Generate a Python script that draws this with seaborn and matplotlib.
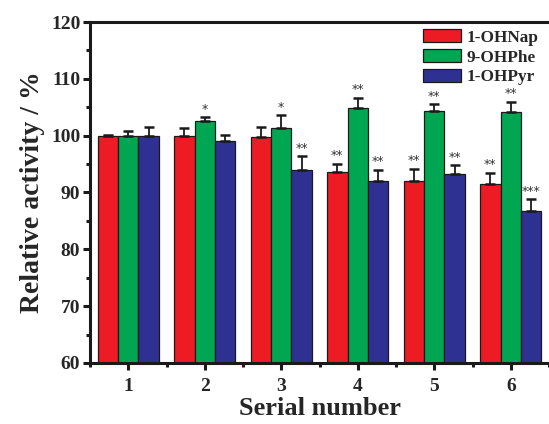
import matplotlib
matplotlib.use("Agg")
import matplotlib.pyplot as plt
import seaborn as sns
import pandas as pd
import numpy as np

groups = ["1", "2", "3", "4", "5", "6"]
series = ["1-OHNap", "9-OHPhe", "1-OHPyr"]
nap = [100.0, 100.0, 99.7, 93.6, 92.1, 91.5]
phe = [100.0, 102.5, 101.4, 104.9, 104.4, 104.1]
pyr = [100.0, 99.0, 94.0, 92.1, 93.3, 86.7]
nap_err = [0.2, 1.4, 1.9, 1.5, 2.1, 2.0]
phe_err = [0.8, 0.8, 2.2, 1.8, 1.1, 1.9]
pyr_err = [1.5, 1.1, 2.4, 1.9, 1.5, 2.1]
nap_sig = ["", "", "", "**", "**", "**"]
phe_sig = ["", "*", "*", "**", "**", "**"]
pyr_sig = ["", "", "**", "**", "**", "***"]
colors = ["#ED1C24", "#00A651", "#2E3192"]

values = [nap, phe, pyr]
errs = [nap_err, phe_err, pyr_err]
sigs = [nap_sig, phe_sig, pyr_sig]

df = pd.DataFrame({
    "Serial": [g for s in series for g in groups],
    "Series": [s for s in series for _ in groups],
    "Value": [v for vals in values for v in vals],
})

sns.set_style("ticks")
plt.rcParams["font.family"] = ["Liberation Serif", "DejaVu Serif"]
plt.rcParams["font.weight"] = "bold"

fig = plt.figure(figsize=(5.49, 4.24), dpi=100)
ax = fig.add_axes([0.164, 0.144, 0.836, 0.804])

sns.barplot(data=df, x="Serial", y="Value", hue="Series", hue_order=series,
            order=groups, palette=colors, saturation=1, width=0.8,
            edgecolor="#1a1a1a", linewidth=0.9, errorbar=None, ax=ax, zorder=2)

for cont, err, sig in zip(ax.containers, errs, sigs):
    for bar, e, s in zip(cont, err, sig):
        xc = bar.get_x() + bar.get_width() / 2
        h = bar.get_height()
        ax.errorbar(xc, h, yerr=[[0], [e]], fmt="none", ecolor="#1a1a1a",
                    elinewidth=1.3, capsize=3.5, capthick=1.8, zorder=3)
        if s:
            ax.text(xc, h + e + 0.25, s, ha="center", va="bottom",
                    fontsize=9, color="#333333", fontweight="normal",
                    family="DejaVu Sans")

ax.set_ylim(60, 120)
ax.set_xlim(-0.5, 5.5)
ax.set_yticks(np.arange(60, 121, 10))
ax.set_yticks(np.arange(65, 120, 10), minor=True)
ax.set_xticks(np.arange(-0.5, 5.6, 1.0), minor=True)

for sp in ["left", "bottom", "top"]:
    ax.spines[sp].set_linewidth(2.2)
    ax.spines[sp].set_color("#1a1a1a")
ax.spines["right"].set_visible(False)

ax.tick_params(axis="both", which="major", direction="out", length=5, width=2.2,
               labelsize=14, color="#1a1a1a")
ax.tick_params(axis="x", which="major", pad=6)
ax.tick_params(axis="y", which="major", pad=2)
ax.tick_params(axis="both", which="minor", direction="out", length=3, width=2.2,
               color="#1a1a1a")
for lab in ax.get_xticklabels() + ax.get_yticklabels():
    lab.set_fontweight("bold")

ax.set_xlabel("Serial number", fontsize=19, fontweight="bold", labelpad=1)
ax.set_ylabel("Relative activity / %", fontsize=20, fontweight="bold", labelpad=4)

leg = ax.legend(loc="upper right", bbox_to_anchor=(0.99, 0.998), frameon=False,
                fontsize=12.4, handlelength=2.2, handleheight=0.85,
                handletextpad=0.3, labelspacing=0.18, borderaxespad=0.1,
                borderpad=0.25)
for t in leg.get_texts():
    t.set_fontweight("bold")

fig.savefig("out.png", dpi=100)
